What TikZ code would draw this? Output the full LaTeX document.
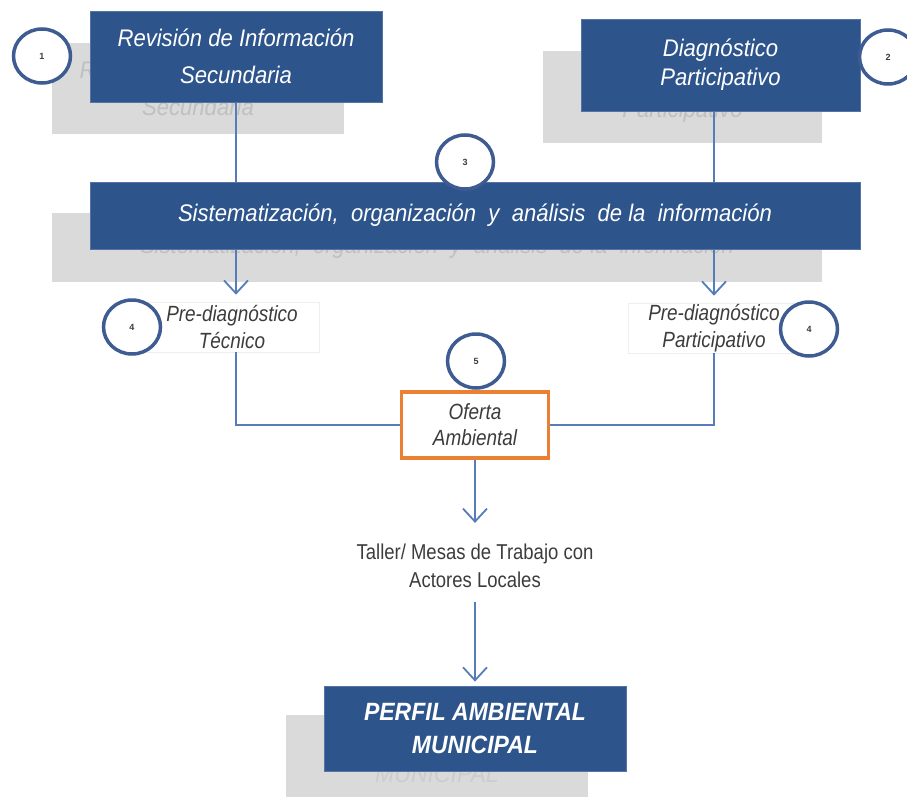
\documentclass[tikz,border=0pt]{standalone}
\usepackage{fontspec}
\setmainfont{Liberation Sans}
\newfontfamily\nar[FakeStretch=0.86]{Liberation Sans}
\newfontfamily\bnar[FakeStretch=0.92]{Liberation Sans}
\usetikzlibrary{arrows.meta,shapes.geometric}
\definecolor{boxblue}{RGB}{45,85,140}
\definecolor{boxedge}{RGB}{85,115,165}
\definecolor{shfill}{RGB}{218,218,218}
\definecolor{shtext}{RGB}{192,192,192}
\definecolor{connc}{RGB}{84,125,185}
\definecolor{circedge}{RGB}{62,92,145}
\definecolor{orng}{RGB}{235,128,50}
\definecolor{txtgray}{RGB}{60,60,60}
\definecolor{faint}{RGB}{238,238,238}
\pgfdeclarelayer{shlayer}
\pgfdeclarelayer{lnlayer}
\pgfsetlayers{shlayer,lnlayer,main}
\begin{document}
\begin{tikzpicture}[x=1pt,y=-1pt,
  bluebox/.style={fill=boxblue, draw=boxedge, line width=0.8pt, text=white,
    inner sep=0pt, align=center},
  shadebox/.style={fill=shfill, draw=none, text=shtext, inner sep=0pt, align=center},
  bfont/.style={font=\bnar\itshape\fontsize{24}{#1}\selectfont},
  numc/.style={ellipse, draw=circedge, line width=3.5pt, fill=white,
    minimum width=57pt, minimum height=54pt, inner sep=0pt, text=txtgray,
    font=\bfseries\fontsize{9}{9}\selectfont},
  plain/.style={draw=faint, line width=0.6pt, inner sep=0pt, align=center, text=txtgray,
    font=\nar\itshape\fontsize{22}{27}\selectfont},
  conn/.style={draw=connc, line width=1.8pt},
  arr/.style={conn, -{Straight Barb[length=13pt,width=24pt]}}
]
\useasboundingbox (0,0) rectangle (907,797);

% shadows
\begin{pgfonlayer}{shlayer}
\node[shadebox, bfont=37, minimum width=292pt, minimum height=91pt] (b1s) at (198,88.5)
  {Revisión de Información\\Secundaria};
\node[shadebox, bfont=29, minimum width=279pt, minimum height=92pt] (b2s) at (682.5,97)
  {Diagnóstico\\Participativo};
\node[shadebox, bfont=29, minimum width=770pt, minimum height=69pt] (syss) at (437,247.5)
  {Sistematización,\ \ organización\ \ y\ \ análisis\ \ de\ la\ \ información};
\node[shadebox, text=shtext!80!white, font=\bnar\itshape\fontsize{25}{33}\selectfont,
  minimum width=302pt, minimum height=85pt] (pfs) at (437,757.5)
  {PERFIL AMBIENTAL\\MUNICIPAL};
\end{pgfonlayer}

% main boxes
\node[bluebox, bfont=37, minimum width=292pt, minimum height=91pt] (b1) at (236,56.5)
  {Revisión de Información\\Secundaria};
\node[bluebox, bfont=29, minimum width=279pt, minimum height=92pt] (b2) at (720.5,65)
  {Diagnóstico\\Participativo};
\node[bluebox, bfont=29, minimum width=770pt, minimum height=67pt] (sys) at (475,215.5)
  {Sistematización,\ \ organización\ \ y\ \ análisis\ \ de\ la\ \ información};
\node[bluebox, font=\bnar\bfseries\itshape\fontsize{25}{33}\selectfont,
  minimum width=302pt, minimum height=85pt] (pf) at (475,728.5)
  {PERFIL AMBIENTAL\\MUNICIPAL};

\node[plain, minimum width=175pt, minimum height=50pt] (pretec) at (232,327)
  {Pre-diagnóstico\\Técnico};
\node[plain, minimum width=172pt, minimum height=50pt] (prepar) at (714,328)
  {Pre-diagnóstico\\Participativo};
\node[draw=orng, line width=3.5pt, fill=white, inner sep=0pt, align=center, text=txtgray,
  font=\nar\itshape\fontsize{22}{26}\selectfont,
  minimum width=147pt, minimum height=66pt] (ofer) at (475,425)
  {Oferta\\Ambiental};
\node[inner sep=0pt, align=center, text=txtgray,
  font=\nar\fontsize{21.5}{28}\selectfont] (taller) at (475,566)
  {Taller/ Mesas de Trabajo con\\Actores Locales};

% connectors
\begin{pgfonlayer}{lnlayer}
\draw[arr, shorten >=7pt] (b1.south) -- (b1.south |- pretec.north);
\draw[arr, shorten >=7pt] (b2.south -| prepar.north) -- (prepar.north);
\end{pgfonlayer}
\draw[conn] (b1.south |- pretec.south) |- (ofer.west);
\draw[conn] (prepar.south) |- (ofer.east);
\draw[arr, shorten >=21pt] (ofer.south) -- (taller.north);
\draw[arr, shorten >=4pt] ([yshift=-14pt]taller.south) -- (pf.north);

% numbered circles
\node[numc] (c1) at (42,56) {1};
\node[numc] (c2) at (888,57) {2};
\node[numc] (c3) at (465,162) {3};
\node[numc] (c4a) at (132,327) {4};
\node[numc] (c4b) at (809,329) {4};
\node[numc] (c5) at (476,361) {5};
\end{tikzpicture}
\end{document}
